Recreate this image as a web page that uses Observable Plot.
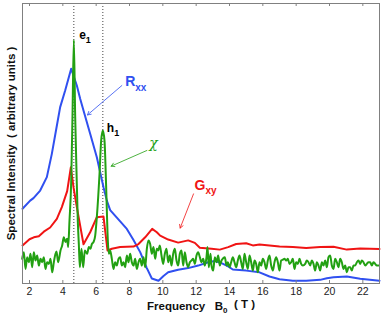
<!DOCTYPE html>
<html><head><meta charset="utf-8">
<script src="https://cdn.jsdelivr.net/npm/d3@7"></script>
<script src="https://cdn.jsdelivr.net/npm/@observablehq/plot@0.6"></script>
<style>body{margin:0;background:#fff}</style>
</head><body><div id="chart"></div>
<script>
// Frequency B0 (T), spectral intensity (arbitrary units, 0..1)
const rxx = [[1.58,0.267],[2.04,0.296],[2.24,0.305],[2.64,0.332],[3.04,0.38],[3.34,0.463],[3.6,0.55],[3.84,0.63],[4.14,0.689],[4.5,0.767],
  [4.84,0.707],[5.04,0.66],[5.24,0.618],[5.64,0.535],[6.04,0.451],[6.44,0.344],[6.64,0.296],[6.84,0.262],[7.24,0.235],[7.84,0.195],
  [8.24,0.155],[8.64,0.112],[9.04,0.055],[9.34,0.018],[9.74,0.010],[10.04,0.027],[10.32,0.040],[10.92,0.049],[11.52,0.055],[12.12,0.064],
  [12.72,0.076],[13.12,0.080],[13.52,0.073],[13.92,0.061],[14.2,0.050],[15.0,0.046],[15.8,0.040],[16.4,0.025],[17.0,0.015],[17.8,0.010],
  [18.6,0.010],[19.44,0.013],[19.84,0.019],[20.24,0.022],[21.04,0.025],[21.84,0.017],[23.0,0.010]];
const gxy = [[1.58,0.136],[2.0,0.158],[2.26,0.165],[2.56,0.169],[2.86,0.185],[3.24,0.200],[3.64,0.231],[3.94,0.273],[4.26,0.330],[4.48,0.415],
  [4.64,0.344],[4.84,0.273],[5.24,0.140],[5.64,0.183],[6.04,0.237],[6.44,0.239],[6.68,0.118],[6.94,0.124],[7.44,0.130],[8.24,0.132],
  [8.54,0.141],[8.94,0.165],[9.36,0.195],[9.64,0.183],[9.84,0.171],[10.32,0.157],[10.92,0.146],[11.52,0.154],[11.92,0.145],[12.22,0.128],
  [12.92,0.124],[13.42,0.121],[13.92,0.130],[14.4,0.141],[15.0,0.144],[15.4,0.136],[15.8,0.139],[16.4,0.136],[17.0,0.132],[17.8,0.130],
  [18.6,0.127],[19.44,0.130],[20.24,0.131],[21.04,0.121],[21.84,0.125],[23.0,0.123]];
const chi = [[1.56,0.088],[1.66,0.112],[1.76,0.052],[1.86,0.094],[1.96,0.076],[2.06,0.106],[2.16,0.058],[2.26,0.112],[2.36,0.082],[2.46,0.100],
  [2.56,0.064],[2.66,0.088],[2.76,0.076],[2.86,0.094],[2.96,0.052],[3.06,0.076],[3.16,0.070],[3.26,0.088],[3.36,0.040],[3.46,0.076],
  [3.56,0.106],[3.62,0.114],[3.72,0.076],[3.86,0.118],[3.96,0.136],[4.06,0.165],[4.16,0.148],[4.26,0.160],[4.32,0.130],[4.40,0.225],
  [4.50,0.36],[4.58,0.60],[4.66,0.87],[4.74,0.60],[4.82,0.40],[4.90,0.22],[4.96,0.14],[5.02,0.058],[5.12,0.124],[5.22,0.058],
  [5.32,0.118],[5.46,0.106],[5.56,0.130],[5.66,0.124],[5.74,0.141],[5.84,0.148],[5.94,0.17],[6.04,0.237],[6.2,0.39],[6.3,0.51],
  [6.4,0.546],[6.5,0.51],[6.6,0.344],[6.7,0.154],[6.76,0.106],[6.84,0.118],[6.94,0.088],[7.04,0.052],[7.14,0.076],[7.24,0.064],
  [7.34,0.088],[7.44,0.094],[7.54,0.064],[7.64,0.076],[7.74,0.058],[7.84,0.100],[7.94,0.076],[8.04,0.106],[8.14,0.076],[8.24,0.064],
  [8.34,0.088],[8.44,0.052],[8.54,0.076],[8.64,0.088],[8.74,0.064],[8.84,0.094],[8.94,0.058],[9.04,0.124],[9.14,0.154],[9.24,0.141],
  [9.34,0.106],[9.44,0.130],[9.54,0.088],[9.64,0.124],[9.72,0.118],[9.82,0.136],[9.92,0.100],[10.02,0.070],[10.12,0.106],[10.22,0.124],
  [10.32,0.076],[10.42,0.100],[10.52,0.064],[10.62,0.106],[10.72,0.124],[10.82,0.082],[10.92,0.064],[11.02,0.106],[11.12,0.118],[11.22,0.064],
  [11.32,0.112],[11.42,0.076],[11.52,0.058],[11.62,0.076],[11.72,0.082],[11.82,0.088],[11.92,0.070],[12.02,0.100],[12.12,0.112],[12.22,0.094],
  [12.32,0.076],[12.42,0.088],[12.52,0.064],[12.62,0.094],[12.68,0.130],[12.76,0.058],[12.86,0.106],[12.92,0.064],[13.02,0.046],[13.12,0.094],
  [13.22,0.076],[13.32,0.100],[13.42,0.064],[13.52,0.082],[13.62,0.090],[13.72,0.094],[13.82,0.064],[13.90,0.076],[14.0,0.058],[14.1,0.076],
  [14.2,0.094],[14.3,0.076],[14.4,0.058],[14.5,0.082],[14.6,0.100],[14.7,0.076],[14.8,0.052],[14.9,0.106],[15.0,0.076],[15.1,0.052],
  [15.2,0.100],[15.3,0.076],[15.4,0.046],[15.5,0.082],[15.6,0.070],[15.7,0.040],[15.8,0.076],[15.9,0.064],[16.0,0.088],[16.1,0.076],
  [16.2,0.052],[16.3,0.082],[16.4,0.100],[16.5,0.064],[16.6,0.046],[16.7,0.076],[16.8,0.094],[16.9,0.076],[17.0,0.046],[17.1,0.082],
  [17.2,0.085],[17.3,0.088],[17.4,0.082],[17.5,0.088],[17.6,0.070],[17.7,0.076],[17.8,0.088],[17.9,0.052],[18.0,0.076],[18.1,0.070],
  [18.2,0.088],[18.3,0.070],[18.4,0.064],[18.54,0.070],[18.64,0.082],[18.74,0.076],[18.84,0.064],[18.94,0.082],[19.04,0.070],[19.14,0.046],
  [19.24,0.076],[19.34,0.064],[19.44,0.046],[19.54,0.076],[19.64,0.064],[19.74,0.082],[19.84,0.058],[19.94,0.094],[20.04,0.100],[20.14,0.064],
  [20.24,0.052],[20.34,0.088],[20.44,0.076],[20.54,0.058],[20.64,0.088],[20.74,0.076],[20.84,0.052],[20.94,0.064],[21.04,0.040],[21.14,0.058],
  [21.24,0.058],[21.34,0.046],[21.44,0.064],[21.54,0.064],[21.64,0.076],[21.74,0.082],[21.84,0.070],[21.94,0.082],[22.04,0.076],[22.14,0.064],
  [22.24,0.070],[22.34,0.076],[22.44,0.076],[22.54,0.064],[22.64,0.076],[22.74,0.070],[22.84,0.064],[22.94,0.064]];
const xTicks = [2,4,6,8,10,12,14,16,18,20,22];
const peakLines = [4.66, 6.4];
const peakLabels = [{x:4.98, y:0.874, t:"e_1"}, {x:6.64, y:0.540, t:"h_1"}];
const rxxLabel = [{x:7.74, y:0.704, t:"R_xx"}];
const chiLabel = [{x:9.18, y:0.483, t:"χ"}];
const gxyLabel = [{x:11.90, y:0.335, t:"G_xy"}];
const rxxArrow = [{x1:7.54, y1:0.707, x2:5.48, y2:0.602}];
const chiArrow = [{x1:9.04, y1:0.475, x2:6.90, y2:0.419}];
const gxyArrow = [{x1:11.84, y1:0.320, x2:11.04, y2:0.198}];
const xLabel = ["Frequency   B_0  ( T )"];
const yLabel = ["Spectral Intensity  ( arbitrary units )"];

const BLUE = "#3050f0", RED = "#f01414", GREEN = "#22a012";
const px = d => d[0], py = d => d[1];

const svg = Plot.plot({
  width: 382, height: 320,
  marginLeft: 22, marginRight: 3, marginTop: 3, marginBottom: 37,
  x: {domain: [1.58, 23]},
  y: {domain: [0, 1], axis: null},
  style: {fontFamily: "'Liberation Sans', Arial, Helvetica, sans-serif", background: "#fff", overflow: "visible"},
  marks: [
    Plot.ruleX(peakLines, {x: d => d, stroke: "#444", strokeWidth: 1, strokeDasharray: "1,2"}),
    Plot.line(rxx, {x: px, y: py, stroke: BLUE, strokeWidth: 2}),
    Plot.line(gxy, {x: px, y: py, stroke: RED, strokeWidth: 2}),
    Plot.line(chi, {x: px, y: py, stroke: GREEN, strokeWidth: 2, curve: "monotone-x"}),
    Plot.arrow(rxxArrow, {x1: "x1", y1: "y1", x2: "x2", y2: "y2", stroke: BLUE, strokeWidth: 0.8, headLength: 7}),
    Plot.arrow(chiArrow, {x1: "x1", y1: "y1", x2: "x2", y2: "y2", stroke: GREEN, strokeWidth: 0.8, headLength: 7}),
    Plot.arrow(gxyArrow, {x1: "x1", y1: "y1", x2: "x2", y2: "y2", stroke: RED, strokeWidth: 0.8, headLength: 7}),
    Plot.text(peakLabels, {x: "x", y: "y", text: "t", textAnchor: "start", lineAnchor: "bottom", fontSize: 12, fontWeight: "bold", fill: "#000"}),
    Plot.text(rxxLabel, {x: "x", y: "y", text: "t", textAnchor: "start", lineAnchor: "bottom", fontSize: 14, fontWeight: "bold", fill: BLUE}),
    Plot.text(chiLabel, {x: "x", y: "y", text: "t", textAnchor: "start", lineAnchor: "bottom", fontSize: 14, fontStyle: "italic", fontFamily: "'DejaVu Serif', serif", fill: GREEN}),
    Plot.text(gxyLabel, {x: "x", y: "y", text: "t", textAnchor: "start", lineAnchor: "bottom", fontSize: 14, fontWeight: "bold", fill: RED}),
    Plot.frame({stroke: "#808080"}),
    Plot.ruleX(xTicks, {x: d => d, insetTop: 277, stroke: "#808080"}),
    Plot.ruleX(xTicks, {x: d => d, insetBottom: 277, stroke: "#808080"}),
    Plot.axisX(xTicks, {anchor: "bottom", tickSize: 0, tickPadding: 4, fontSize: 10.5, fill: "#222", label: null}),
    Plot.text(xLabel, {frameAnchor: "bottom", text: d => d, dy: 26, lineAnchor: "bottom", fontSize: 11.5, fontWeight: "bold", fill: "#111"}),
    Plot.text(yLabel, {frameAnchor: "left", text: d => d, rotate: -90, dx: -8, textAnchor: "middle", lineAnchor: "bottom", fontSize: 11.5, fontWeight: "bold", fill: "#111"})
  ]
});

// subscripts: "main_sub" -> main + lowered smaller tspan
d3.select(svg).selectAll("text").each(function() {
  const s = this.textContent;
  this.style.whiteSpace = "pre";
  if (!s.includes("_")) return;
  const [main, sub] = s.split("_");
  const fs = parseFloat(d3.select(this.parentNode).attr("font-size") || this.getAttribute("font-size") || 12);
  const el = d3.select(this);
  const trail = sub.match(/^(\S+)(.*)$/);
  el.selectAll("*").remove();
  el.text(null);
  el.append("tspan").text(main);
  el.append("tspan").attr("dy", "0.45em").attr("font-size", Math.round(fs * 0.72)).text(trail[1]);
  if (trail[2]) el.append("tspan").attr("dy", "-0.45em").text(trail[2]);
});

document.getElementById("chart").appendChild(svg);
</script>
</body></html>
